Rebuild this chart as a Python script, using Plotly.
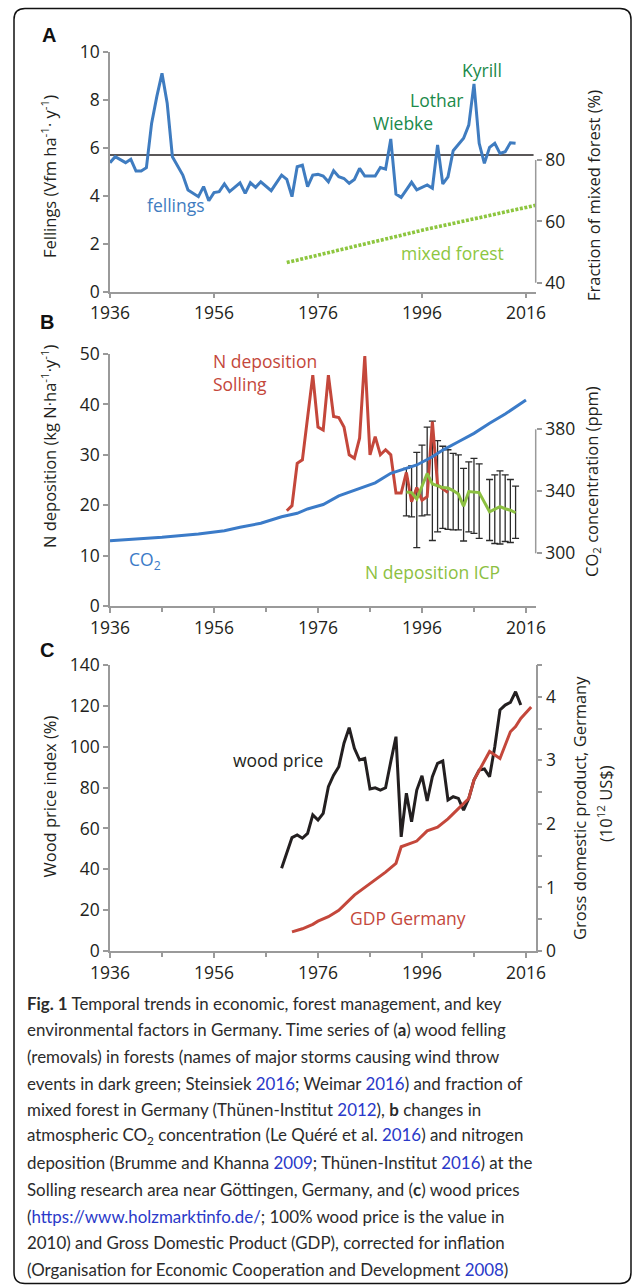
import plotly.graph_objects as go

W, H = 633, 1286
def px(x): return x / W
def py(y): return 1 - y / H

# ---------------- data ----------------
# Panel A: fellings (Vfm ha-1 y-1)
fell_years = [1936,1937,1939,1940,1941,1942,1943,1944,1945,1946,1947,1948,1950,1951,1953,1954,1955,1956,1957,1958,
              1959,1961,1962,1963,1964,1965,1967,1969,1970,1971,1972,1973,1974,1975,1976,1977,1978,1979,1980,1981,
              1982,1983,1984,1985,1987,1988,1989,1990,1991,1992,1993,1994,1995,1996,1997,1998,1999,2000,2001,2002,
              2003,2004,2005,2006,2007,2008,2009,2010,2011,2012,2013,2014]
fell_vals = [5.39,5.64,5.39,5.53,5.04,5.04,5.18,7.03,8.15,9.12,7.87,5.64,4.87,4.25,3.97,4.39,3.80,4.14,4.18,4.50,
             4.18,4.55,4.11,4.55,4.36,4.59,4.22,4.87,4.69,3.97,5.22,5.29,4.39,4.87,4.90,4.83,4.59,5.05,4.80,4.73,
             4.53,4.69,5.15,4.83,4.83,5.19,5.12,6.38,4.08,3.94,4.25,4.57,4.25,4.36,4.46,4.32,6.13,4.50,4.80,5.89,
             6.17,6.41,6.96,8.68,6.20,5.36,6.03,6.20,5.78,5.85,6.22,6.20]
fell_ref_level = 5.71
mixed_years = [1970, 1997, 2018]
mixed_frac = [46.6, 57.5, 65.3]

# Panel B
solling_years = [1970,1971,1972,1973,1975,1976,1977,1978,1979,1980,1981,1982,1983,1984,1985,1986,1987,1988,1989,1990,
                 1991,1992,1993,1994,1995,1996,1997,1998,1999,2000,2001]
solling_n = [18.9,19.9,28.3,29.0,45.8,35.5,34.9,45.8,37.6,37.4,35.5,30.0,29.3,33.3,49.6,30.0,33.6,30.0,31.0,30.0,
             22.4,22.4,26.5,20.7,23.5,21.0,21.7,36.6,24.0,23.3,22.5]
icp_years = [1993,1994,1995,1996,1997,1998,1999,2000,2001,2002,2003,2004,2005,2006,2007,2009,2010,2011,2012,2013,2014]
icp_mean = [22.6,22.5,21.2,23.8,26.3,24.2,23.8,23.5,23.4,22.9,22.2,19.8,22.7,22.6,22.5,18.7,19.2,19.7,19.3,19.0,18.5]
icp_high = [27.3,27.8,30.5,31.9,35.5,36.7,32.8,31.7,31.0,30.3,30.0,27.3,28.6,29.3,28.2,25.1,26.0,26.8,26.0,25.1,23.8]
icp_low = [17.9,17.7,11.6,17.9,18.1,13.0,14.7,15.4,15.2,15.1,15.1,12.9,14.7,14.4,13.4,13.0,12.4,12.3,12.8,12.6,13.4]
co2_years = [1936,1946,1953,1958,1961,1965,1969,1972,1974,1977,1980,1983,1987,1990,1993,1995,1998,2000,2003,2006,2009,2012,2016]
co2_ppm = [308.1,310.3,312.5,314.6,316.8,319.4,323.6,325.8,328.6,331.5,337.0,340.8,345.5,351.6,354.8,357.0,362.3,366.6,
           372.0,377.4,383.9,389.9,398.9]

# Panel C
wood_years = list(range(1969, 2016))
wood_price = [40.5,48.3,55.5,56.8,55.2,57.6,66.6,64.1,67.4,80.4,86.1,90.2,101.7,109.3,99.2,93.5,94.3,79.3,79.9,78.8,
              79.9,92.7,104.9,55.9,77.2,63.3,78.8,85.8,73.4,85.3,91.9,93.0,73.9,75.5,74.7,69.0,74.7,83.7,88.6,89.1,
              85.3,100.0,118.0,120.4,121.7,126.9,120.4]
gdp_years = [1971,1973,1975,1976,1978,1980,1983,1985,1987,1989,1991,1992,1995,1997,1999,2001,2003,2005,2006,2008,
             2009,2011,2013,2014,2015,2017]
gdp = [0.30,0.35,0.42,0.47,0.54,0.64,0.88,1.00,1.12,1.24,1.38,1.64,1.73,1.89,1.95,2.08,2.24,2.40,2.69,2.98,
       3.14,3.03,3.45,3.53,3.66,3.84]

year_ticks = [1936, 1956, 1976, 1996, 2016]

# ---------------- style ----------------
FONT = "Open Sans"
CAPFONT = "Lato"
TXT = "#231f20"
GRAY = "#9a9a9a"
BLUE = "#3f7cc0"
CO2BLUE = "#3b7bc8"
LGREEN = "#8dc63f"
DGREEN = "#1b8a4a"
RED = "#c4473b"
BLACK = "#231f20"
LINK = "#2a39c9"

fig = go.Figure()
fig.add_trace(go.Scatter(x=fell_years, y=fell_vals, mode="lines", line=dict(color=BLUE, width=3),
                         xaxis="x", yaxis="y"))
fig.add_trace(go.Scatter(x=mixed_years, y=mixed_frac, mode="lines",
                         line=dict(color=LGREEN, width=3.6, dash="3px,1.6px"), xaxis="x", yaxis="y2"))

fig.add_trace(go.Scatter(x=icp_years, y=icp_mean, mode="markers", marker=dict(size=1, color="rgba(0,0,0,0)"),
                         error_y=dict(type="data", symmetric=False,
                                      array=[h - m for h, m in zip(icp_high, icp_mean)],
                                      arrayminus=[m - l for m, l in zip(icp_mean, icp_low)],
                                      color="#2b2b2b", thickness=1.3, width=3.5),
                         xaxis="x2", yaxis="y3"))
fig.add_trace(go.Scatter(x=solling_years, y=solling_n, mode="lines", line=dict(color=RED, width=3),
                         xaxis="x2", yaxis="y3"))
fig.add_trace(go.Scatter(x=icp_years, y=icp_mean, mode="lines", line=dict(color="#8cc041", width=3),
                         xaxis="x2", yaxis="y3"))
fig.add_trace(go.Scatter(x=co2_years, y=co2_ppm, mode="lines", line=dict(color=CO2BLUE, width=3),
                         xaxis="x2", yaxis="y4"))

fig.add_trace(go.Scatter(x=wood_years, y=wood_price, mode="lines", line=dict(color=BLACK, width=3),
                         xaxis="x3", yaxis="y5"))
fig.add_trace(go.Scatter(x=gdp_years, y=gdp, mode="lines", line=dict(color=RED, width=3),
                         xaxis="x3", yaxis="y6"))

tickfont = dict(family=FONT, size=17.5, color=TXT)
xdom = [px(110), px(535.7)]
xr = [1936, 2017.87]
base_x = dict(domain=xdom, range=xr, tickmode="array", tickvals=year_ticks, showline=True, linecolor=GRAY,
              linewidth=1.5, ticks="outside", ticklen=5, tickcolor=GRAY, tickwidth=1.5, showgrid=False,
              zeroline=False, tickfont=tickfont, automargin=False)
minor_x = dict(tickmode="array", tickvals=[1946, 1966, 1986, 2006], ticks="outside", ticklen=4,
               tickcolor=GRAY, tickwidth=1.5, showgrid=False)
base_y = dict(showline=True, linecolor=GRAY, linewidth=1.5, ticks="outside", ticklen=5, tickcolor=GRAY,
              tickwidth=1.5, showgrid=False, zeroline=False, tickfont=tickfont, automargin=False)
right_y = dict(side="right", showline=False, ticks="outside", ticklen=5, tickcolor=GRAY, tickwidth=1.5,
               showgrid=False, zeroline=False, tickfont=tickfont, automargin=False)

fig.update_layout(
    width=W, height=H, autosize=False, margin=dict(l=0, r=0, t=0, b=0, pad=0),
    paper_bgcolor="white", plot_bgcolor="white", showlegend=False,
    xaxis=dict(base_x, anchor="y"),
    xaxis2=dict(base_x, anchor="y3", minor=minor_x),
    xaxis3=dict(base_x, anchor="y5", minor=minor_x),
    yaxis=dict(base_y, domain=[py(291.7), py(52.3)], range=[0, 10], tickvals=[0, 2, 4, 6, 8, 10], anchor="x"),
    yaxis2=dict(right_y, overlaying="y", anchor="x", range=[37.1, 115.1], tickvals=[40, 60, 80]),
    yaxis3=dict(base_y, domain=[py(606), py(354)], range=[0, 50], tickvals=[0, 10, 20, 30, 40, 50], anchor="x2"),
    yaxis4=dict(right_y, overlaying="y3", anchor="x2", range=[266, 428.6], tickvals=[300, 340, 380]),
    yaxis5=dict(base_y, domain=[py(951), py(665)], range=[0, 140], tickvals=list(range(0, 141, 20)), anchor="x3"),
    yaxis6=dict(right_y, overlaying="y5", anchor="x3", range=[0, 4.5], showline=True, linecolor=GRAY,
                linewidth=1.5, tickvals=[0, 1, 2, 3, 4],
                minor=dict(tickmode="array", tickvals=[0.5, 1.5, 2.5, 3.5, 4.5], ticks="outside", ticklen=5,
                           tickcolor=GRAY, tickwidth=1.5, showgrid=False)),
)

shapes = []
shapes.append(dict(type="line", xref="x domain", yref="y", x0=0, x1=0.995, y0=fell_ref_level, y1=fell_ref_level,
                   line=dict(color=BLACK, width=1.6), layer="below"))
shapes.append(dict(type="line", xref="paper", yref="y2", x0=px(535.7), x1=px(535.7), y0=40, y1=80,
                   line=dict(color=GRAY, width=1.5)))
shapes.append(dict(type="line", xref="paper", yref="y4", x0=px(535.7), x1=px(535.7), y0=300, y1=380,
                   line=dict(color=GRAY, width=1.5)))
# outer rounded frame
L, R, T, B, r = 14, 631, 8.5, 1283.5, 11
def P(x, y): return f"{px(x):.5f},{py(y):.5f}"
path = (f"M{P(L + r, T)} L{P(R - r, T)} Q{P(R, T)} {P(R, T + r)} L{P(R, B - r)} Q{P(R, B)} {P(R - r, B)} "
        f"L{P(L + r, B)} Q{P(L, B)} {P(L, B - r)} L{P(L, T + r)} Q{P(L, T)} {P(L + r, T)} Z")
shapes.append(dict(type="path", xref="paper", yref="paper", path=path, line=dict(color="#111", width=1.5)))
fig.update_layout(shapes=shapes)

def ann(text, x, y, size=17, color=TXT, xanchor="center", yanchor="middle", angle=0, family=FONT, align="center"):
    return dict(text=text, x=px(x), y=py(y), xref="paper", yref="paper", showarrow=False, xanchor=xanchor,
                yanchor=yanchor, textangle=angle, align=align, font=dict(family=family, size=size, color=color))

anns = []
# panel letters
anns.append(ann("<b>A</b>", 48.5, 35, size=20, color="#111", family="Liberation Sans"))
anns.append(ann("<b>B</b>", 46.5, 321.5, size=20, color="#111", family="Liberation Sans"))
anns.append(ann("<b>C</b>", 46.5, 649.5, size=20, color="#111", family="Liberation Sans"))
# axis titles
anns.append(ann("Fellings (Vfm ha<sup>-1</sup>· y<sup>-1</sup>)", 49, 177, size=16.5, angle=-90))
anns.append(ann("Fraction of mixed forest (%)", 593, 196, size=16.5, angle=-90))
anns.append(ann("N deposition (kg N·ha<sup>-1</sup>·y<sup>-1</sup>)", 49, 446, size=16.5, angle=-90))
anns.append(ann("CO<sub>2</sub> concentration (ppm)", 592, 482, size=16.5, angle=-90))
anns.append(ann("Wood price index (%)", 48.5, 797, size=16.5, angle=-90))
anns.append(ann("Gross domestic product, Germany", 579, 808, size=16.5, angle=-90))
anns.append(ann("(10<sup>12</sup> US$)", 605, 804, size=16.5, angle=-90))
# series labels
anns.append(ann("fellings", 176, 205, size=17.5, color=BLUE))
anns.append(ann("mixed forest", 452, 253, size=17.5, color=LGREEN))
anns.append(ann("Kyrill", 482, 70, size=17.5, color=DGREEN))
anns.append(ann("Lothar", 437, 100, size=17.5, color=DGREEN))
anns.append(ann("Wiebke", 403, 123, size=17.5, color=DGREEN))
anns.append(ann("N deposition<br>Solling", 211, 372, size=17.5, color=RED, xanchor="left", align="left"))
anns.append(ann("CO<sub>2</sub>", 127, 561, size=17.5, color=CO2BLUE, xanchor="left"))
anns.append(ann("N deposition ICP", 432.5, 572, size=17.5, color="#8cc041"))
anns.append(ann("wood price", 278, 760, size=17.5, color=BLACK))
anns.append(ann("GDP Germany", 407.5, 918, size=17.5, color=RED))

# caption
def lk(t): return f"<span style='color:{LINK}'>{t}</span>"
cap_lines = [
    "<b>Fig. 1</b> Temporal trends in economic, forest management, and key",
    "environmental factors in Germany. Time series of (<b>a</b>) wood felling",
    "(removals) in forests (names of major storms causing wind throw",
    f"events in dark green; Steinsiek {lk('2016')}; Weimar {lk('2016')}) and fraction of",
    f"mixed forest in Germany (Thünen-Institut {lk('2012')}), <b>b</b> changes in",
    f"atmospheric CO<sub>2</sub> concentration (Le Quéré et al. {lk('2016')}) and nitrogen",
    f"deposition (Brumme and Khanna {lk('2009')}; Thünen-Institut {lk('2016')}) at the",
    "Solling research area near Göttingen, Germany, and (<b>c</b>) wood prices",
    f"({lk('https://www.holzmarktinfo.de/')}; 100% wood price is the value in",
    "2010) and Gross Domestic Product (GDP), corrected for inflation",
    f"(Organisation for Economic Cooperation and Development {lk('2008')})",
]
for i, t in enumerate(cap_lines):
    anns.append(ann(t, 24.5, 1003.3 + i * 26.6, size=16.9, color="#2b2b2b", xanchor="left",
                    family=CAPFONT))

fig.update_layout(annotations=anns)
fig.write_html("out.html", config={"displayModeBar": False},
               post_script="document.body.style.margin='0px';document.body.style.overflow='hidden';")
